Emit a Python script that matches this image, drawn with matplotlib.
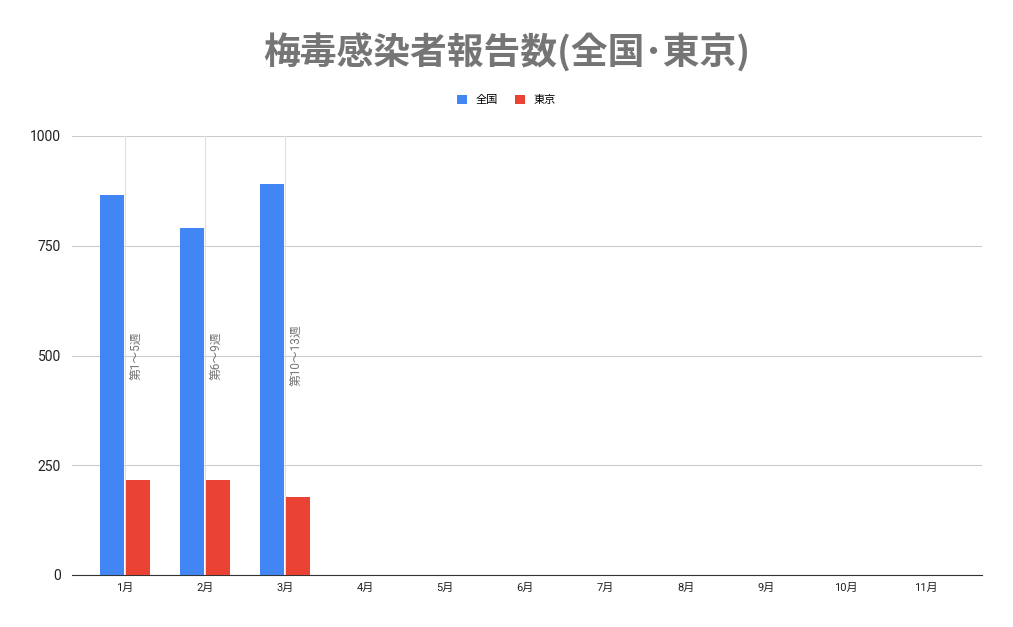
import numpy as np
import matplotlib
matplotlib.use('Agg')
import matplotlib.pyplot as plt

plt.rcParams['font.family'] = ['Roboto', 'Noto Sans CJK JP', 'DejaVu Sans']

# monthly reported syphilis cases
months = ['1月', '2月', '3月', '4月', '5月', '6月', '7月', '8月', '9月', '10月', '11月']
zenkoku = [866, 791, 891]
tokyo = [216, 216, 178]
notes = ['第1～5週', '第6～9週', '第10～13週']

blue = '#4285f4'
red = '#ea4335'

fig = plt.figure(figsize=(10.13, 6.27), dpi=100)
ax = fig.add_axes([72/1013, 52/627, 910/1013, 439/627])

x = np.arange(len(months))
w = 0.3
ax.bar(x[:len(zenkoku)] - w/2 - 0.012, zenkoku, w, color=blue, label='全国', zorder=3)
ax.bar(x[:len(tokyo)] + w/2 + 0.012, tokyo, w, color=red, label='東京', zorder=3)

# annotation lines with rotated week labels
for i, note in enumerate(notes):
    ax.axvline(i, color='#e0e0e0', lw=0.8, zorder=2)
    ax.text(i + 0.135, 500, note, rotation=90, ha='center', va='center',
            fontsize=8.5, color='#757575', zorder=4)

ax.set_xlim(-0.66, len(months) - 0.3)
ax.set_ylim(0, 1000)
ax.set_yticks([0, 250, 500, 750, 1000])
ax.set_xticks(x)
ax.set_xticklabels(months, fontsize=8)
ax.tick_params(axis='y', labelsize=10, length=0, pad=8, labelcolor='#222222')
ax.tick_params(axis='x', length=0, pad=6, labelcolor='#222222')
ax.grid(axis='y', color='#cccccc', lw=0.8, zorder=0)
for s in ['top', 'right', 'left']:
    ax.spines[s].set_visible(False)
ax.spines['bottom'].set_color('#333333')

fig.text(0.5, 1 - 53/627, '梅毒感染者報告数(全国･東京)', ha='center', va='center',
         fontsize=26.5, fontweight='bold', color='#757575',
         family=['Noto Sans CJK JP', 'DejaVu Sans'])
fig.legend(loc='center', bbox_to_anchor=(0.5, 1 - 100/627), ncol=2, frameon=False,
           fontsize=8, handlelength=0.9, handleheight=0.9, columnspacing=1.5,
           handletextpad=0.8)

fig.savefig('out.png')
